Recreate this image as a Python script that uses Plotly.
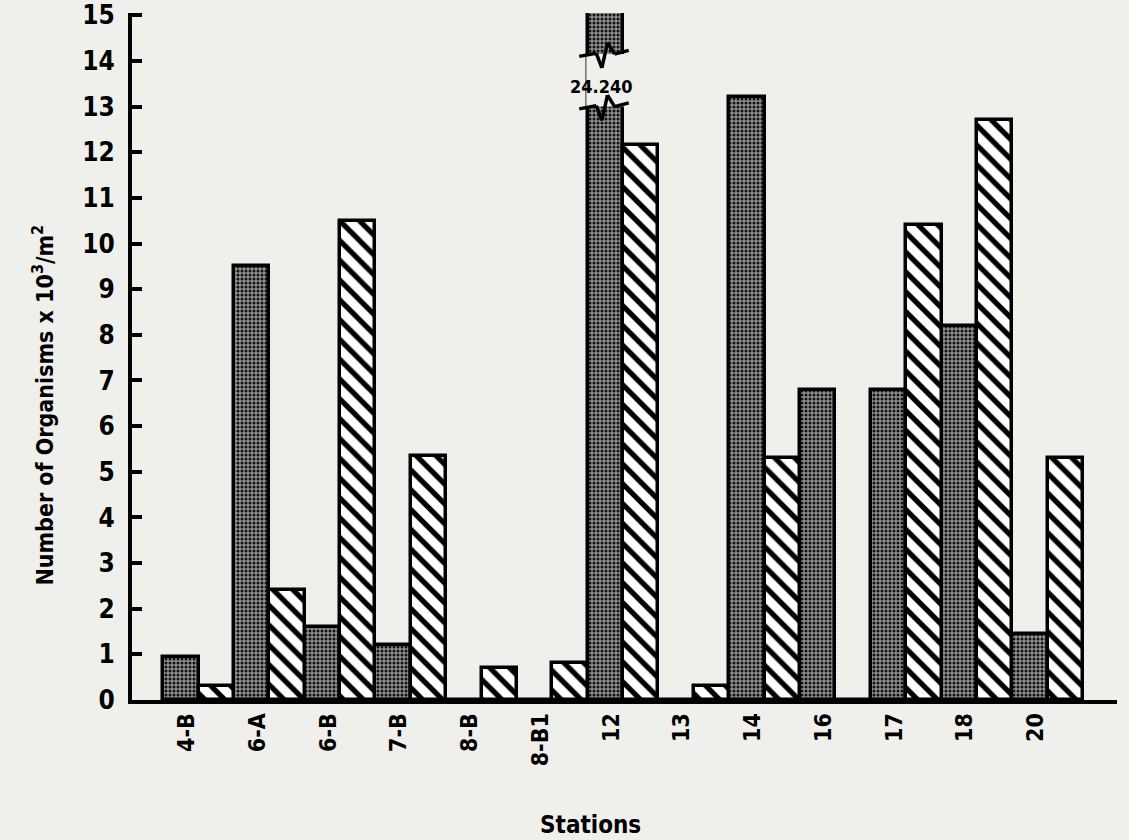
import plotly.graph_objects as go

stations = ["4-B", "6-A", "6-B", "7-B", "8-B", "8-B1", "12", "13", "14", "16", "17", "18", "20"]
series_a = [0.95, 9.5, 1.6, 1.2, 0, 0, 24.24, 0, 13.2, 6.8, 6.8, 8.2, 1.45]
series_b = [0.3, 2.4, 10.5, 5.35, 0.7, 0.8, 12.15, 0.3, 5.3, 0, 10.4, 12.7, 5.3]
y_ticks = list(range(0, 16))
break_label = "24.240"
y_title = "Number of Organisms x 10<sup>3</sup>/m<sup>2</sup>"
x_title = "Stations"

FONT = "DejaVu Sans Condensed, Liberation Sans Narrow, Arial Narrow, sans-serif"
PAPER = "#efefec"

fig = go.Figure()
fig.add_trace(go.Bar(
    x=stations, y=series_a, name="A",
    marker=dict(color="#7a7a7a",
                line=dict(color="black", width=3.5),
                pattern=dict(shape=".", fgcolor="#111111", bgcolor="#909090",
                             size=4, solidity=0.45, fgopacity=1)),
))
fig.add_trace(go.Bar(
    x=stations, y=series_b, name="B",
    marker=dict(color="white",
                line=dict(color="black", width=3.5),
                pattern=dict(shape="\\", fgcolor="black", bgcolor="white",
                             size=14, solidity=0.38, fgopacity=1)),
))

# axis break on the off-scale bar of station 12
i12 = stations.index("12")
xa0, xa1 = i12 - 0.62, i12 + 0.08
fig.add_shape(type="rect", xref="x", yref="y", x0=i12 - 0.52, x1=i12 + 0.02,
              y0=13.0, y1=14.15, fillcolor=PAPER, line=dict(width=0), layer="above")
for yb in (13.0, 14.15):
    pts = [(xa0, yb - 0.05), (i12 - 0.38, yb + 0.02), (i12 - 0.3, yb - 0.3),
           (i12 - 0.22, yb + 0.25), (i12 - 0.12, yb + 0.0), (xa1, yb + 0.08)]
    for (p0, p1) in zip(pts[:-1], pts[1:]):
        fig.add_shape(type="line", xref="x", yref="y", x0=p0[0], y0=p0[1],
                      x1=p1[0], y1=p1[1], line=dict(color="black", width=3.5),
                      layer="above")
fig.add_annotation(x=i12 - 0.3, y=13.45, xref="x", yref="y", text="<b>" + break_label + "</b>",
                   showarrow=False, font=dict(family=FONT, size=18, color="black"))

# axis titles (positioned as in the original)
fig.add_annotation(x=-0.0904, y=0.43, xref="paper", yref="paper", textangle=-90,
                   text="<b>" + y_title + "</b>", showarrow=False,
                   xanchor="center", yanchor="middle",
                   font=dict(family=FONT, size=23, color="black"))
fig.add_annotation(x=0.465, y=-0.182, xref="paper", yref="paper",
                   text="<b>" + x_title + "</b>", showarrow=False,
                   xanchor="center", yanchor="middle",
                   font=dict(family=FONT, size=24, color="black"))

fig.update_layout(
    width=1129, height=840,
    margin=dict(l=132, r=12, t=13, b=140),
    paper_bgcolor=PAPER, plot_bgcolor=PAPER,
    barmode="group", bargap=0, bargroupgap=0,
    showlegend=False,
    font=dict(family=FONT, color="black", size=22, weight="bold"),
    xaxis=dict(
        type="category", range=[-0.94, 12.98], automargin=False,
        showline=True, linecolor="black", linewidth=4,
        ticks="", tickangle=-90, showgrid=False, zeroline=False,
        ticklabelshift=-12,
        tickfont=dict(family=FONT, size=23, weight="bold"),
    ),
    yaxis=dict(
        range=[0, 15.05], tickvals=y_ticks, ticktext=[str(v) for v in y_ticks],
        automargin=False,
        showline=True, linecolor="black", linewidth=4,
        ticks="inside", ticklen=10, tickwidth=3.5, tickcolor="black",
        showgrid=False, zeroline=False, ticklabelstandoff=8,
        tickfont=dict(family=FONT, size=26, weight="bold"),
    ),
)

fig.write_html("out.html", config={"displayModeBar": False},
               post_script="document.body.style.margin='0';document.body.style.overflow='hidden';")
